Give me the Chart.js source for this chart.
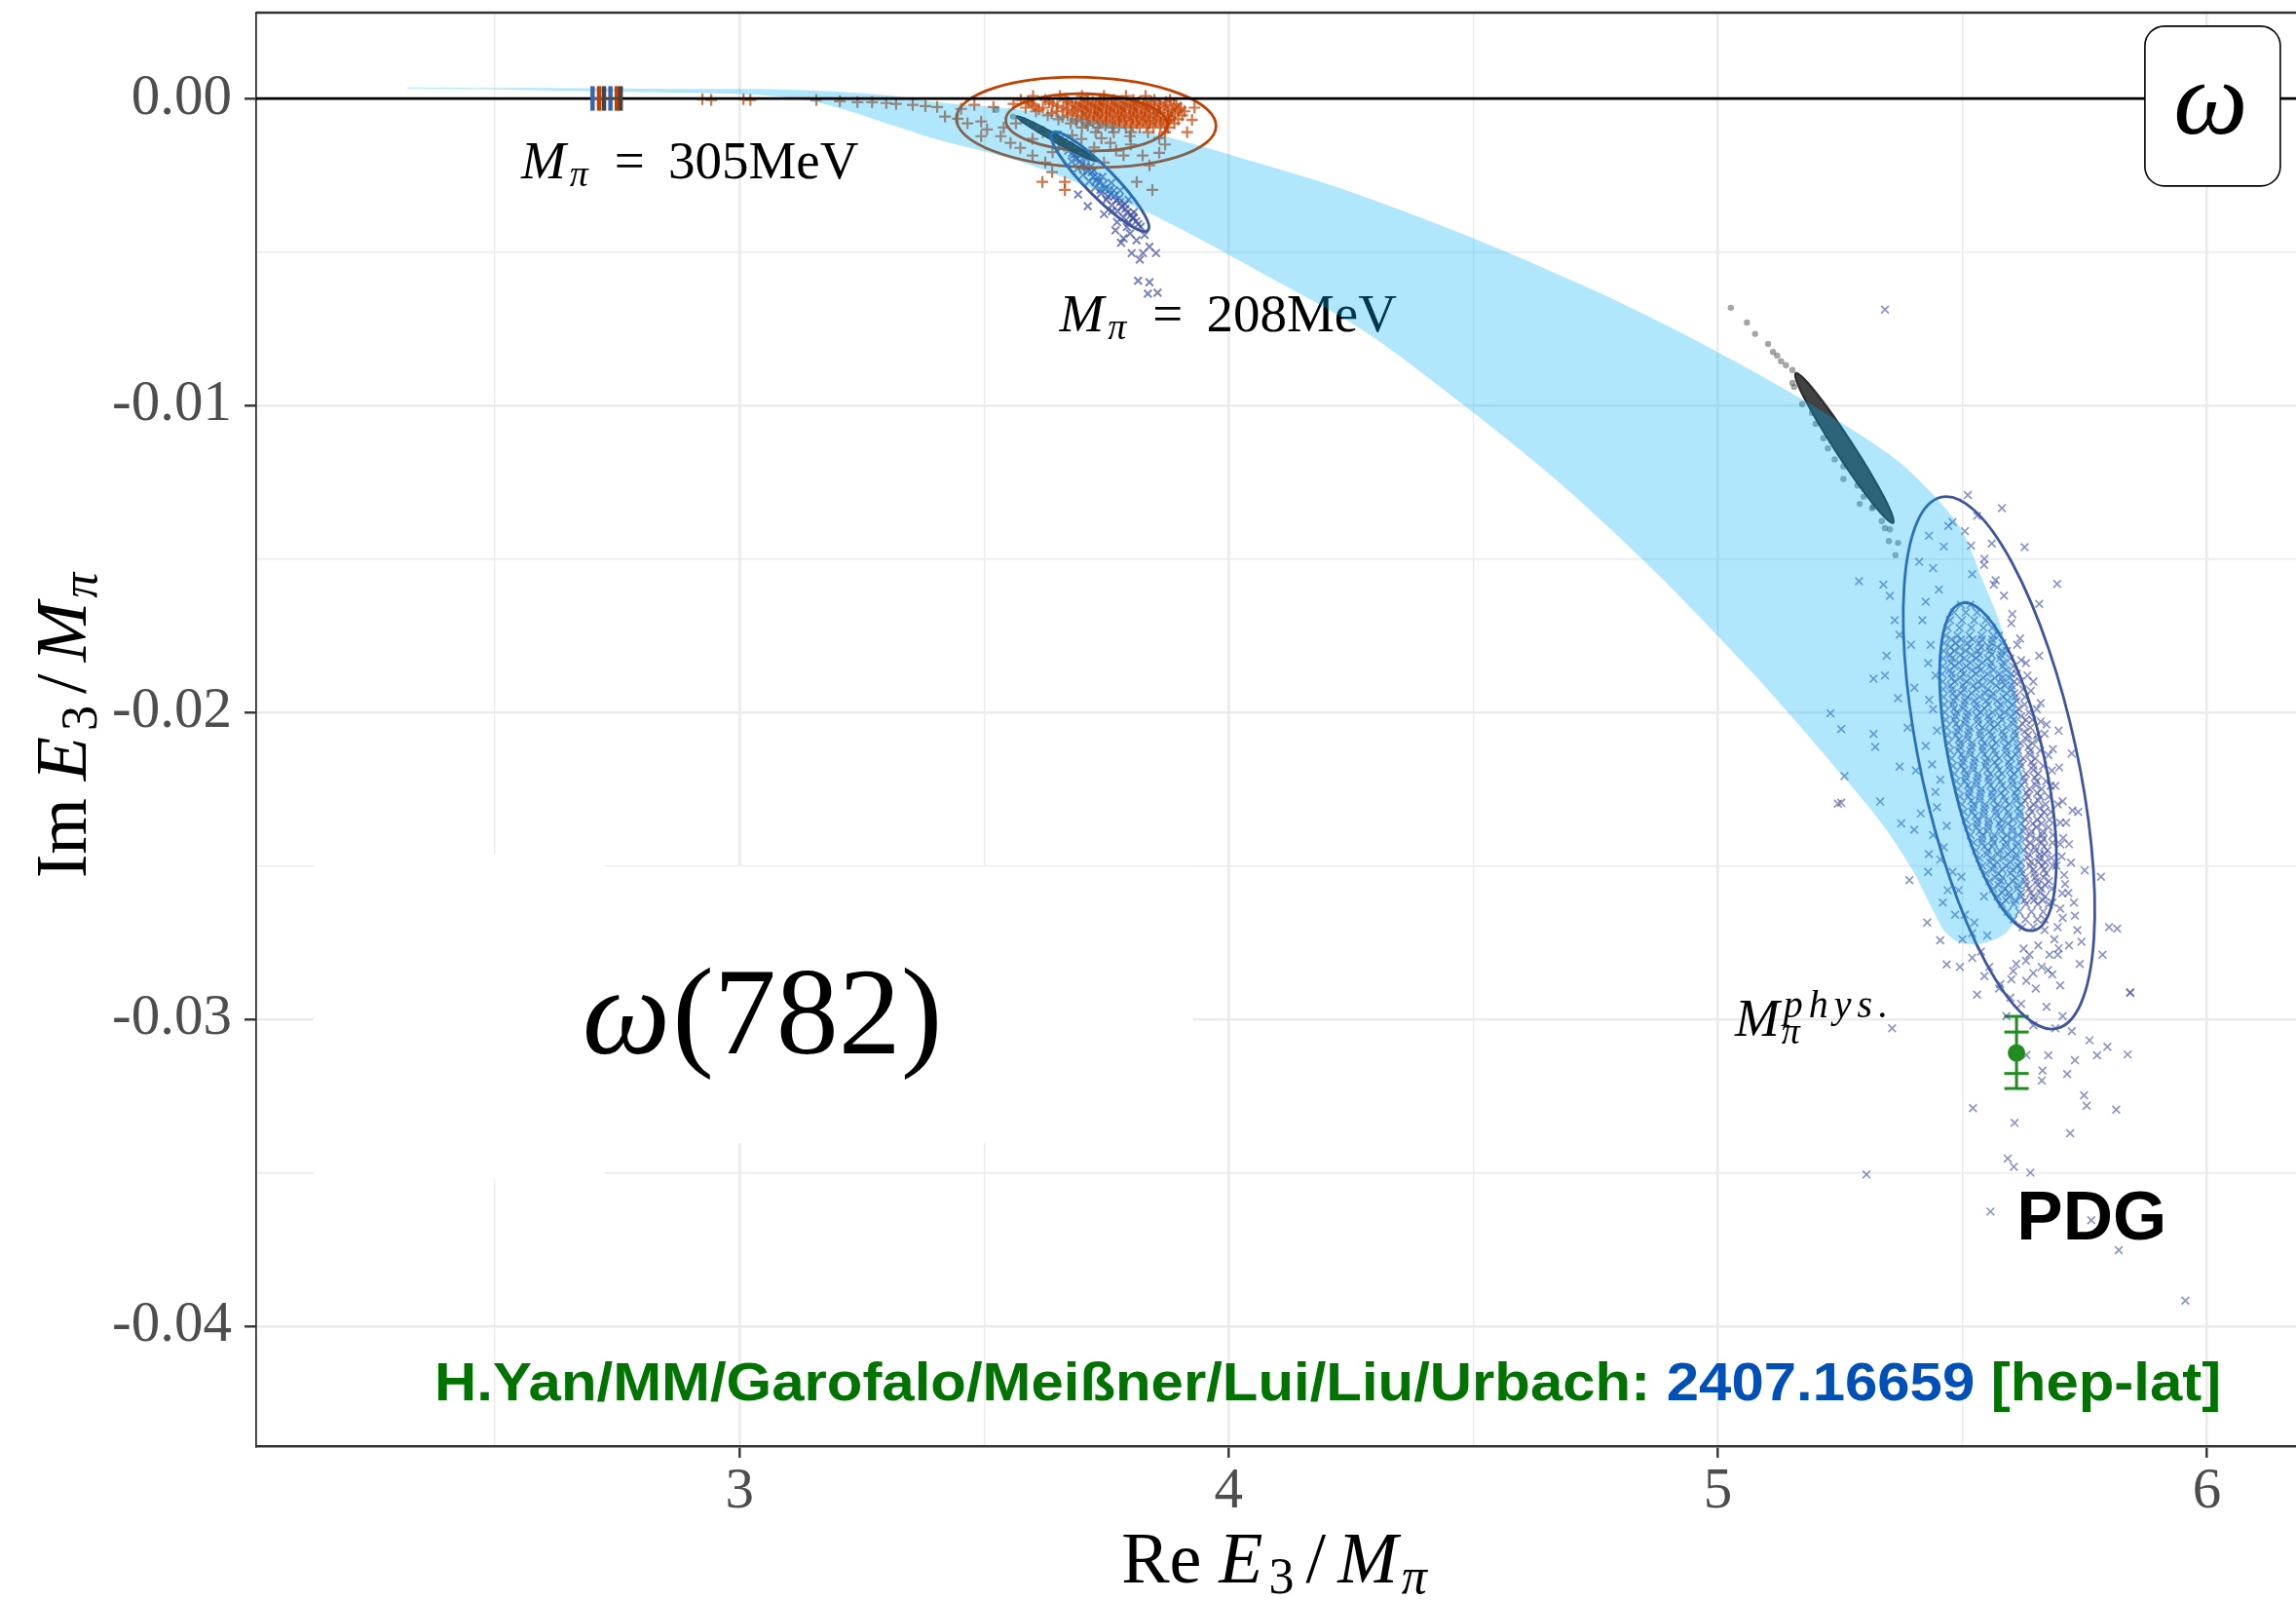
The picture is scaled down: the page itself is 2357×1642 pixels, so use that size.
<!DOCTYPE html>
<html>
<head>
<meta charset="utf-8">
<script src="https://cdn.jsdelivr.net/npm/chart.js@4.4.1/dist/chart.umd.min.js"></script>
<style>
  html, body { margin: 0; padding: 0; background: #fff; overflow: hidden; }
  canvas { display: block; }
</style>
</head>
<body>
<canvas id="chart" width="2357" height="1642"></canvas>
<script>
// ------------------------------------------------------------
// Data (Re E3/Mpi, Im E3/Mpi)
// ------------------------------------------------------------
const xRange = [2.0118, 6.182];
const yRange = [-0.04391, 0.002795];
const xGrid = [2.5, 3, 3.5, 4, 4.5, 5, 5.5, 6];
const xMajor = [3, 4, 5, 6];
const yGrid = [-0.04, -0.035, -0.03, -0.025, -0.02, -0.015, -0.01, -0.005, 0];
const yMajor = [0, -0.01, -0.02, -0.03, -0.04];
const yMajorLabels = ['0.00', '-0.01', '-0.02', '-0.03', '-0.04'];

// light blue band: upper edge left->right, lower edge right->left
const bandUpper = [
  [2.3205, 0.00036], [2.5237, 0.00034], [2.7428, 0.00033], [2.9220, 0.00031], [3.0614, 0.00030],
  [3.2008, 0.00022], [3.3203, 0.00007], [3.3999, -0.00012], [3.5792, -0.00037], [3.7186, -0.00072],
  [3.8839, -0.00129], [4.0572, -0.00209], [4.2424, -0.00301], [4.4913, -0.00450], [4.7403, -0.00621],
  [4.9534, -0.00787], [5.1725, -0.00980], [5.3517, -0.01161], [5.4314, -0.01276], [5.4971, -0.01403],
  [5.5449, -0.01584], [5.5768, -0.01711], [5.6046, -0.01901], [5.6166, -0.02114], [5.6245, -0.02324],
  [5.6245, -0.02536], [5.6166, -0.02641], [5.5907, -0.02717], [5.5449, -0.02752]
];
const bandLower = [
  [5.4971, -0.02752], [5.4653, -0.02717], [5.4454, -0.02663], [5.3976, -0.02514], [5.3318, -0.02355],
  [5.2323, -0.02165], [5.0729, -0.01875], [4.8738, -0.01545], [4.6746, -0.01250], [4.4754, -0.00993],
  [4.2762, -0.00757], [4.0771, -0.00577], [3.8282, -0.00367], [3.5792, -0.00209], [3.3999, -0.00132],
  [3.3203, -0.00091], [3.1809, -0.00021], [3.0614, 0.00009], [2.7428, 0.00022], [2.5237, 0.00029],
  [2.3205, 0.00033]
];

// Mpi = 305 MeV samples ("+")
const orangeRows = [
  [0.00008, [3.600, 3.655, 3.700, 3.745, 3.790, 3.830]],
  [-0.00005, [3.575, 3.625, 3.668, 3.712, 3.738, 3.765, 3.805, 3.848, 3.880]],
  [-0.000115, [3.590, 3.633, 3.672, 3.697, 3.722, 3.745, 3.770, 3.793, 3.817, 3.842, 3.872]],
  [-0.00018, [3.560, 3.598, 3.640, 3.680, 3.705, 3.728, 3.752, 3.779, 3.801, 3.826, 3.857, 3.893]],
  [-0.00024, [3.602, 3.650, 3.687, 3.711, 3.735, 3.760, 3.784, 3.808, 3.833, 3.860, 3.888]],
  [-0.00030, [3.585, 3.620, 3.662, 3.693, 3.718, 3.741, 3.766, 3.788, 3.812, 3.839, 3.869, 3.902]],
  [-0.00036, [3.612, 3.668, 3.700, 3.726, 3.750, 3.773, 3.798, 3.822, 3.847, 3.875, 3.898]],
  [-0.00042, [3.606, 3.648, 3.684, 3.708, 3.733, 3.757, 3.781, 3.806, 3.830, 3.855, 3.884, 3.910]],
  [-0.00048, [3.638, 3.680, 3.713, 3.738, 3.762, 3.786, 3.811, 3.835, 3.860, 3.890]],
  [-0.00055, [3.630, 3.671, 3.699, 3.725, 3.749, 3.774, 3.797, 3.821, 3.846, 3.876, 3.905]],
  [-0.00061, [3.660, 3.703, 3.730, 3.756, 3.780, 3.804, 3.828, 3.853, 3.882]],
  [-0.00068, [3.652, 3.690, 3.716, 3.742, 3.768, 3.791, 3.815, 3.840, 3.866, 3.897]],
  [-0.00074, [3.688, 3.723, 3.750, 3.776, 3.800, 3.825, 3.850, 3.878]],
  [-0.00081, [3.677, 3.709, 3.736, 3.763, 3.787, 3.812, 3.837, 3.862, 3.889]],
  [-0.00088, [3.712, 3.748, 3.776, 3.804, 3.832, 3.860]],
  [-0.00095, [3.700, 3.733, 3.762, 3.790, 3.818, 3.846, 3.876]],
  [-0.00110, [3.728, 3.765, 3.800, 3.835, 3.870]]
];
const orangeSpread = [
  [3.420, -0.00059], [3.446, -0.00066], [3.466, -0.00081], [3.494, -0.00075], [3.506, -0.00101],
  [3.534, -0.00123], [3.554, -0.00145], [3.574, -0.00161], [3.599, -0.00186], [3.625, -0.00209],
  [3.639, -0.00240], [3.665, -0.00272], [3.619, -0.00272], [3.665, -0.00298], [3.705, -0.00228],
  [3.745, -0.00209], [3.785, -0.00186], [3.824, -0.00186], [3.858, -0.00177], [3.838, -0.00218],
  [3.812, -0.00272], [3.844, -0.00298], [3.858, -0.00129], [3.878, -0.00069], [3.494, -0.00123],
  [3.565, -0.00081], [3.599, -0.00132], [3.652, -0.00145], [3.699, -0.00132], [3.758, -0.00145],
  [3.798, -0.00123], [3.540, -0.00095], [3.620, -0.00110], [3.680, -0.00120], [3.725, -0.00160],
  [3.770, -0.00170], [3.640, -0.00175], [3.690, -0.00190], [3.740, -0.00130], [3.800, -0.00150],
  [3.870, -0.00150], [3.915, -0.00110], [3.925, -0.00070], [3.930, -0.00030]
];
const orangeTail = [
  [2.924, -0.00002], [2.942, -0.00005], [3.008, -0.00002], [3.022, -0.00005], [3.157, -0.00005],
  [3.205, -0.00009], [3.241, -0.00012], [3.271, -0.00012], [3.300, -0.00015], [3.320, -0.00018],
  [3.354, -0.00021], [3.380, -0.00025], [3.404, -0.00028], [3.453, -0.00034], [3.480, -0.00021],
  [3.519, -0.00028]
];

// Mpi = 208 MeV samples ("x") and the dark streak next to them
const blue208 = [
  [3.6500, -0.00118], [3.6620, -0.00142], [3.6720, -0.00170], [3.6580, -0.00160], [3.6850, -0.00182],
  [3.6790, -0.00205], [3.6960, -0.00205], [3.6910, -0.00228], [3.7080, -0.00222], [3.7020, -0.00250],
  [3.7200, -0.00240], [3.7150, -0.00270], [3.7320, -0.00258], [3.7270, -0.00290], [3.7440, -0.00280],
  [3.7390, -0.00310], [3.7560, -0.00298], [3.7500, -0.00330], [3.7670, -0.00318], [3.7610, -0.00348],
  [3.7780, -0.00338], [3.7730, -0.00368], [3.7890, -0.00360], [3.7850, -0.00388], [3.8000, -0.00380],
  [3.7960, -0.00405], [3.8110, -0.00400], [3.8200, -0.00418], [3.7420, -0.00255], [3.7600, -0.00275],
  [3.7780, -0.00300], [3.7950, -0.00330], [3.7250, -0.00235], [3.7080, -0.00195],
  [3.6560, -0.00130], [3.6680, -0.00155], [3.6800, -0.00178], [3.6900, -0.00195], [3.7000, -0.00215],
  [3.7120, -0.00238], [3.7230, -0.00255], [3.7350, -0.00272], [3.7470, -0.00293], [3.7580, -0.00312],
  [3.7700, -0.00332], [3.7810, -0.00352], [3.7920, -0.00372], [3.8040, -0.00392], [3.8150, -0.00410],
  [3.7530, -0.00320], [3.7650, -0.00300], [3.7380, -0.00298], [3.7290, -0.00268], [3.7180, -0.00222],
  [3.7760, -0.00325], [3.7880, -0.00345], [3.8060, -0.00370],
  [3.7684, -0.00430], [3.7849, -0.00456], [3.7982, -0.00440], [3.8116, -0.00462], [3.8016, -0.00504],
  [3.8247, -0.00504], [3.8380, -0.00483], [3.8514, -0.00504], [3.8182, -0.00525], [3.8148, -0.00594],
  [3.8380, -0.00599], [3.8347, -0.00636], [3.8546, -0.00633], [3.6921, -0.00313], [3.7120, -0.00351],
  [3.7451, -0.00377], [3.7618, -0.00367], [3.7718, -0.00403], [3.7917, -0.00419], [3.8048, -0.00387],
  [3.8280, -0.00445], [3.7800, -0.00470]
];
const dark208 = [
  [3.525, -0.00037], [3.559, -0.00059], [3.580, -0.00072], [3.599, -0.00085], [3.620, -0.00100],
  [3.639, -0.00117], [3.679, -0.00148], [3.709, -0.00177]
];

// intermediate ensemble (grey dots)
const darkDots = [
  [5.0265, -0.00682], [5.0595, -0.00730], [5.0762, -0.00767], [5.1028, -0.00800], [5.1127, -0.00826],
  [5.1213, -0.00838], [5.1292, -0.00856], [5.1392, -0.00869], [5.1525, -0.00885], [5.1525, -0.00927],
  [5.1559, -0.00940], [5.1724, -0.00996], [5.1923, -0.01025], [5.2000, -0.01060], [5.2157, -0.01107],
  [5.2250, -0.01140], [5.2388, -0.01176], [5.2567, -0.01199], [5.2567, -0.01240], [5.2854, -0.01261],
  [5.2900, -0.01321], [5.2980, -0.01298], [5.3153, -0.01335], [5.3180, -0.01330], [5.3352, -0.01377],
  [5.3416, -0.01400], [5.3517, -0.01404], [5.3497, -0.01442], [5.3683, -0.01448], [5.3631, -0.01488]
];

// physical point samples ("x")
const physCoreRows = [
  [-0.01650, [5.497, 5.516]],
  [-0.01675, [5.483, 5.507, 5.530]],
  [-0.01700, [5.475, 5.499, 5.524, 5.548]],
  [-0.01725, [5.470, 5.494, 5.518, 5.543, 5.561]],
  [-0.01750, [5.466, 5.490, 5.514, 5.539, 5.563, 5.575]],
  [-0.01775, [5.463, 5.486, 5.510, 5.535, 5.559, 5.582]],
  [-0.01800, [5.462, 5.483, 5.507, 5.532, 5.556, 5.581, 5.591]],
  [-0.01825, [5.461, 5.479, 5.503, 5.528, 5.552, 5.577, 5.598]],
  [-0.01850, [5.460, 5.484, 5.508, 5.533, 5.557, 5.582, 5.604]],
  [-0.01875, [5.459, 5.478, 5.502, 5.527, 5.551, 5.576, 5.600, 5.611]],
  [-0.01900, [5.460, 5.484, 5.508, 5.533, 5.557, 5.582, 5.606, 5.618]],
  [-0.01925, [5.461, 5.479, 5.503, 5.528, 5.552, 5.577, 5.601, 5.624]],
  [-0.01950, [5.462, 5.486, 5.510, 5.535, 5.559, 5.584, 5.608, 5.628]],
  [-0.01975, [5.463, 5.480, 5.504, 5.529, 5.553, 5.578, 5.602, 5.627]],
  [-0.02000, [5.464, 5.488, 5.512, 5.537, 5.561, 5.586, 5.610, 5.636]],
  [-0.02025, [5.466, 5.483, 5.507, 5.532, 5.556, 5.581, 5.605, 5.630, 5.643]],
  [-0.02050, [5.468, 5.492, 5.516, 5.541, 5.565, 5.590, 5.614, 5.639]],
  [-0.02075, [5.470, 5.487, 5.511, 5.536, 5.560, 5.585, 5.609, 5.634, 5.652]],
  [-0.02100, [5.472, 5.496, 5.520, 5.545, 5.569, 5.594, 5.618, 5.643]],
  [-0.02125, [5.475, 5.492, 5.516, 5.541, 5.565, 5.590, 5.614, 5.639, 5.659]],
  [-0.02150, [5.478, 5.502, 5.526, 5.551, 5.575, 5.600, 5.624, 5.649]],
  [-0.02175, [5.481, 5.498, 5.522, 5.547, 5.571, 5.596, 5.620, 5.645, 5.665]],
  [-0.02200, [5.484, 5.508, 5.532, 5.557, 5.581, 5.606, 5.630, 5.655]],
  [-0.02225, [5.488, 5.505, 5.529, 5.554, 5.578, 5.603, 5.627, 5.652, 5.671]],
  [-0.02250, [5.491, 5.515, 5.539, 5.564, 5.588, 5.613, 5.637, 5.662]],
  [-0.02275, [5.495, 5.512, 5.536, 5.561, 5.585, 5.610, 5.634, 5.659, 5.676]],
  [-0.02300, [5.499, 5.523, 5.547, 5.572, 5.596, 5.621, 5.645, 5.670]],
  [-0.02325, [5.503, 5.520, 5.544, 5.569, 5.593, 5.618, 5.642, 5.667, 5.681]],
  [-0.02350, [5.507, 5.531, 5.555, 5.580, 5.604, 5.629, 5.653, 5.678]],
  [-0.02375, [5.512, 5.529, 5.553, 5.578, 5.602, 5.627, 5.651, 5.676]],
  [-0.02400, [5.517, 5.541, 5.565, 5.590, 5.614, 5.639, 5.663, 5.685]],
  [-0.02425, [5.523, 5.540, 5.564, 5.589, 5.613, 5.638, 5.662, 5.684]],
  [-0.02450, [5.528, 5.552, 5.576, 5.601, 5.625, 5.650, 5.674]],
  [-0.02475, [5.535, 5.559, 5.584, 5.608, 5.633, 5.657, 5.682]],
  [-0.02500, [5.541, 5.565, 5.589, 5.614, 5.638, 5.663, 5.685]],
  [-0.02525, [5.548, 5.573, 5.598, 5.622, 5.647, 5.671]],
  [-0.02550, [5.555, 5.579, 5.603, 5.628, 5.652, 5.677]],
  [-0.02575, [5.563, 5.587, 5.612, 5.636, 5.661, 5.683]],
  [-0.02600, [5.572, 5.596, 5.620, 5.645, 5.669]],
  [-0.02625, [5.581, 5.605, 5.630, 5.654, 5.677]],
  [-0.02650, [5.592, 5.616, 5.641, 5.665]],
  [-0.02675, [5.605, 5.629, 5.653, 5.668]],
  [-0.02700, [5.623, 5.645]]
];
// densest middle of the physical cloud, between the rows above
const physMidRows = [
  [-0.01763, [5.478, 5.497, 5.521, 5.540, 5.561]],
  [-0.01788, [5.476, 5.494, 5.515, 5.538, 5.555, 5.571]],
  [-0.01813, [5.475, 5.496, 5.519, 5.535, 5.560, 5.579]],
  [-0.01838, [5.477, 5.493, 5.516, 5.541, 5.559, 5.584]],
  [-0.01863, [5.474, 5.498, 5.520, 5.537, 5.563, 5.589]],
  [-0.01888, [5.478, 5.495, 5.517, 5.543, 5.566, 5.581, 5.596]],
  [-0.01913, [5.476, 5.501, 5.522, 5.540, 5.569, 5.587, 5.601]],
  [-0.01938, [5.480, 5.497, 5.519, 5.546, 5.563, 5.590, 5.606]],
  [-0.01963, [5.482, 5.505, 5.524, 5.549, 5.571, 5.592, 5.611]],
  [-0.01988, [5.483, 5.501, 5.528, 5.545, 5.574, 5.596, 5.615]],
  [-0.02013, [5.486, 5.509, 5.530, 5.553, 5.577, 5.599, 5.620]],
  [-0.02038, [5.487, 5.505, 5.533, 5.557, 5.572, 5.603, 5.623]],
  [-0.02063, [5.490, 5.513, 5.536, 5.555, 5.581, 5.607, 5.627]],
  [-0.02088, [5.493, 5.511, 5.539, 5.562, 5.584, 5.604, 5.631]],
  [-0.02113, [5.495, 5.519, 5.541, 5.560, 5.588, 5.612, 5.635]],
  [-0.02138, [5.498, 5.516, 5.545, 5.568, 5.591, 5.609, 5.638]],
  [-0.02163, [5.501, 5.524, 5.548, 5.566, 5.594, 5.618, 5.641]],
  [-0.02188, [5.504, 5.522, 5.551, 5.575, 5.597, 5.614, 5.645]],
  [-0.02213, [5.507, 5.531, 5.553, 5.572, 5.600, 5.625, 5.648]],
  [-0.02238, [5.511, 5.528, 5.557, 5.581, 5.603, 5.621, 5.650]],
  [-0.02263, [5.514, 5.537, 5.560, 5.579, 5.607, 5.631, 5.653]],
  [-0.02288, [5.518, 5.535, 5.563, 5.588, 5.610, 5.628, 5.655]],
  [-0.02313, [5.522, 5.545, 5.567, 5.586, 5.613, 5.638, 5.658]],
  [-0.02338, [5.526, 5.543, 5.571, 5.595, 5.617, 5.635, 5.661]],
  [-0.02363, [5.530, 5.553, 5.575, 5.593, 5.620, 5.644, 5.662]],
  [-0.02388, [5.535, 5.551, 5.579, 5.602, 5.624, 5.641, 5.664]],
  [-0.02413, [5.540, 5.562, 5.583, 5.601, 5.628, 5.651, 5.666]],
  [-0.02438, [5.545, 5.561, 5.588, 5.610, 5.632, 5.648, 5.667]],
  [-0.02463, [5.550, 5.572, 5.593, 5.610, 5.636, 5.658, 5.668]],
  [-0.02488, [5.556, 5.571, 5.598, 5.619, 5.640, 5.655, 5.669]],
  [-0.02513, [5.561, 5.582, 5.603, 5.620, 5.645, 5.667]],
  [-0.02538, [5.567, 5.582, 5.608, 5.628, 5.649, 5.666]],
  [-0.02563, [5.574, 5.594, 5.614, 5.631, 5.654, 5.669]],
  [-0.02588, [5.581, 5.595, 5.620, 5.640, 5.659]],
  [-0.02613, [5.589, 5.608, 5.627, 5.646, 5.664]]
];
const physRing = [
  [5.657, -0.01647], [5.657, -0.01816], [5.6968, -0.0206], [5.7235, -0.02134], [5.7367, -0.02325],
  [5.750, -0.02515], [5.7167, -0.02589], [5.730, -0.02663], [5.7434, -0.02748], [5.6968, -0.02769],
  [5.6371, -0.02790], [5.6040, -0.02843], [5.5774, -0.02886], [5.6306, -0.02875], [5.6837, -0.02854],
  [5.5442, -0.02600], [5.5243, -0.02685], [5.5508, -0.02727], [5.4977, -0.02536], [5.5176, -0.01457],
  [5.5443, -0.01520], [5.5642, -0.01584], [5.4713, -0.01393], [5.4315, -0.01425], [5.4116, -0.01510],
  [5.480, -0.0138], [5.505, -0.0141], [5.530, -0.0136], [5.462, -0.0146], [5.545, -0.0150],
  [5.440, -0.0153], [5.568, -0.0157], [5.452, -0.0160], [5.585, -0.0162], [5.425, -0.0164],
  [5.560, -0.0145], [5.520, -0.0155], [5.418, -0.0170], [5.395, -0.0178], [5.430, -0.0184],
  [5.402, -0.0192], [5.440, -0.0199], [5.388, -0.0205], [5.425, -0.0211], [5.405, -0.0219],
  [5.445, -0.0226], [5.415, -0.0233], [5.440, -0.0240], [5.455, -0.0248], [5.430, -0.0252],
  [5.470, -0.0258], [5.485, -0.0266], [5.460, -0.0262], [5.500, -0.0274], [5.520, -0.0280],
  [5.495, -0.0283], [5.545, -0.0286], [5.530, -0.0292], [5.602, -0.0168], [5.618, -0.0176],
  [5.630, -0.0184], [5.645, -0.0190], [5.660, -0.0197], [5.672, -0.0204], [5.655, -0.0209],
  [5.685, -0.0212], [5.698, -0.0218], [5.680, -0.0224], [5.705, -0.0229], [5.712, -0.0236],
  [5.700, -0.0243], [5.722, -0.0249], [5.710, -0.0256], [5.728, -0.0262], [5.705, -0.0267],
  [5.735, -0.0271], [5.718, -0.0276], [5.695, -0.0279], [5.740, -0.0282], [5.655, -0.0276],
  [5.630, -0.0281], [5.675, -0.0284], [5.600, -0.0287], [5.650, -0.0290], [5.700, -0.0289],
  [5.620, -0.0295], [5.672, -0.0296], [5.705, -0.0299], [5.590, -0.0299], [5.645, -0.0302],
  [5.690, -0.0303],
  [5.600, -0.0171], [5.612, -0.0178], [5.620, -0.0183], [5.633, -0.0188], [5.640, -0.0193],
  [5.652, -0.0199], [5.660, -0.0203], [5.668, -0.0207], [5.676, -0.0214], [5.683, -0.0219],
  [5.690, -0.0224], [5.695, -0.0230], [5.700, -0.0236], [5.706, -0.0241], [5.703, -0.0247],
  [5.708, -0.0253], [5.704, -0.0259], [5.700, -0.0264], [5.695, -0.0270], [5.688, -0.0274],
  [5.678, -0.0279], [5.662, -0.0283], [5.645, -0.0285], [5.625, -0.0277], [5.610, -0.0282],
  [5.668, -0.0271], [5.684, -0.0262], [5.692, -0.0250], [5.718, -0.0243], [5.725, -0.0232],
  [5.435, -0.0178], [5.445, -0.0188], [5.432, -0.0196], [5.448, -0.0206], [5.438, -0.0217],
  [5.455, -0.0222], [5.448, -0.0231], [5.468, -0.0237], [5.462, -0.0244], [5.480, -0.0252],
  [5.492, -0.0258], [5.505, -0.0266], [5.520, -0.0272], [5.538, -0.0278], [5.555, -0.0283],
  [5.575, -0.0290], [5.598, -0.0293]
];
const physOuter = [
  [5.843, -0.02915], [5.760, -0.03069], [5.7964, -0.03090], [5.8377, -0.03115], [5.7753, -0.03118],
  [5.730, -0.03134], [5.6757, -0.03118], [5.6637, -0.03168], [5.6624, -0.03200], [5.7141, -0.03179],
  [5.7487, -0.03248], [5.754, -0.03282], [5.8144, -0.03295], [5.7202, -0.03372], [5.6066, -0.03338],
  [5.5216, -0.03290], [5.5927, -0.03454], [5.6052, -0.03481], [5.6391, -0.03500], [5.3039, -0.03506],
  [5.5574, -0.03627], [5.7634, -0.03655], [5.8197, -0.03753], [5.9558, -0.03917], [5.3563, -0.03030],
  [5.7236, -0.03039], [5.6306, -0.03117], [5.3418, -0.00688], [5.2303, -0.02003], [5.2522, -0.02295],
  [5.2886, -0.01573], [5.3384, -0.01584], [5.3517, -0.01621], [5.3616, -0.01700], [5.3716, -0.01748],
  [5.3451, -0.01816], [5.3184, -0.01891], [5.3417, -0.01880], [5.3682, -0.01954], [5.2522, -0.02055],
  [5.3184, -0.02071], [5.3219, -0.02113], [5.3716, -0.02177], [5.2588, -0.02208], [5.2455, -0.02298],
  [5.3318, -0.02291], [5.3750, -0.02362], [5.4015, -0.02383], [5.3916, -0.02547], [5.4314, -0.02462],
  [5.4280, -0.02685], [5.4547, -0.02743], [5.4679, -0.02822], [5.6272, -0.01462], [5.6937, -0.01582],
  [5.5808, -0.01335], [5.5111, -0.01292], [5.7833, -0.02536], [5.7998, -0.02700], [5.8164, -0.02705],
  [5.7865, -0.02790], [5.8430, -0.02912]
];

// confidence ellipses: centre, tip of the major axis, minor/major ratio
const ellOrangeOuter = { c: [3.7086, -0.000775], tip: [3.9741, -0.000911], ratio: 0.346 };
const ellOrangeInner = { c: [3.7094, -0.000778], tip: [3.8745, -0.000861], ratio: 0.353 };
const ellBlue208 = { c: [3.7369, -0.002712], tip: [3.8347, -0.00430], ratio: 0.21 };
const ellDark208 = { c: [3.6489, -0.001315], tip: [3.7319, -0.002055], ratio: 0.08 };
const ellDarkMid = { c: [5.2587, -0.011391], tip: [5.3583, -0.013827], ratio: 0.1 };
const ellPhysOuter = { c: [5.5748, -0.021648], tip: [5.6927, -0.030305], ratio: 0.288 };
const ellPhysInner = { c: [5.5728, -0.021775], tip: [5.6463, -0.027110], ratio: 0.281 };

// horizontal error bars on the real axis
const hErrLo = [2.6995, 2.7128, 2.7228];
const hErrHi = [2.7360, 2.7490, 2.7570];
const hErrY = [0, 0, 0];

// PDG value
const pdgX = [5.6106];
const pdgY = [-0.03110];
const pdgErrInner = [-0.03042, -0.03177];
const pdgErrOuter = [-0.02991, -0.03226];

// ------------------------------------------------------------
// Styles / helpers
// ------------------------------------------------------------
const SERIF = "'Liberation Serif', 'Times New Roman', serif";
const SANS = "'Liberation Sans', Arial, Helvetica, sans-serif";
const BAND = 'rgba(0, 176, 250, 0.31)';
const ORANGE = '#c04000';
const SLATE = '#3d559e';
const GRID = '#ebebeb';
const AXIS = '#333333';
const FOREST = '#228b22';

const toPts = arr => arr.map(([x, y]) => ({ x, y }));
const rowsToPts = rows => rows.flatMap(([y, xs]) => xs.map(x => ({ x, y })));
const X = (c, v) => c.scales.x.getPixelForValue(v);
const Y = (c, v) => c.scales.y.getPixelForValue(v);

function ellipse(chart, e, stroke, width, fill) {
  const ctx = chart.ctx;
  const cx = X(chart, e.c[0]), cy = Y(chart, e.c[1]);
  const tx = X(chart, e.tip[0]), ty = Y(chart, e.tip[1]);
  const a = Math.hypot(tx - cx, ty - cy);
  ctx.save();
  ctx.beginPath();
  ctx.ellipse(cx, cy, a, a * e.ratio, Math.atan2(ty - cy, tx - cx), 0, Math.PI * 2);
  if (fill) { ctx.fillStyle = fill; ctx.fill(); }
  ctx.strokeStyle = stroke;
  ctx.lineWidth = width;
  ctx.stroke();
  ctx.restore();
}

function drawRich(ctx, x, y, parts, align) {
  let total = 0;
  for (const p of parts) { ctx.font = p.f; total += ctx.measureText(p.t).width + (p.k || 0); }
  let cx = align === 'center' ? x - total / 2 : x;
  for (const p of parts) {
    ctx.font = p.f;
    ctx.fillText(p.t, cx, y + (p.dy || 0));
    cx += ctx.measureText(p.t).width + (p.k || 0);
  }
  return total;
}

function mpiLabel(value) {
  return [
    { t: 'M', f: `italic 55px ${SERIF}`, k: 4 },
    { t: 'π', f: `italic 38px ${SERIF}`, dy: 8, k: 27 },
    { t: '=', f: `55px ${SERIF}`, k: 24 },
    { t: value + 'MeV', f: `55px ${SERIF}` }
  ];
}

// everything that sits under the translucent band
const underBand = {
  id: 'underBand',
  afterDatasetDraw(chart, args) {
    if (chart.data.datasets[args.index].label !== 'phys') return;
    const ctx = chart.ctx;
    ellipse(chart, ellOrangeOuter, ORANGE, 2.8);
    ellipse(chart, ellOrangeInner, ORANGE, 2.8);
    ellipse(chart, ellDark208, '#2d2d2d', 1.5, 'rgba(45,45,45,0.9)');
    ellipse(chart, ellBlue208, SLATE, 3);
    ellipse(chart, ellDarkMid, '#2d2d2d', 2.2, 'rgba(45,45,45,0.9)');
    ellipse(chart, ellPhysOuter, SLATE, 2.8);
    ellipse(chart, ellPhysInner, SLATE, 2.8);
    ctx.save();
    ctx.fillStyle = '#000';
    ctx.textBaseline = 'alphabetic';
    drawRich(ctx, X(chart, 3.6538), Y(chart, -0.007602), mpiLabel('208'));
    ctx.restore();
  }
};

const decorations = {
  id: 'decorations',
  beforeDatasetsDraw(chart) {
    const ctx = chart.ctx;
    ctx.save();
    // white label boxes behind omega(782)
    ctx.fillStyle = '#fff';
    const rects = [[2.1293, 2.7248, -0.02463, -0.03521], [2.7248, 3.9277, -0.02503, -0.03403]];
    for (const [x0, x1, y0, y1] of rects) {
      ctx.fillRect(X(chart, x0), Y(chart, y0), X(chart, x1) - X(chart, x0), Y(chart, y1) - Y(chart, y0));
    }
    ctx.fillStyle = '#000';
    ctx.textBaseline = 'alphabetic';
    drawRich(ctx, X(chart, 2.6786), Y(chart, -0.031102), [
      { t: 'ω', f: `italic 128px ${SERIF}`, k: 2 },
      { t: '(782)', f: `128px ${SERIF}` }
    ]);
    // PDG error bars
    ctx.strokeStyle = FOREST;
    ctx.lineWidth = 3;
    pdgX.forEach(xv => {
      const px = X(chart, xv);
      ctx.beginPath();
      ctx.moveTo(px, Y(chart, pdgErrOuter[0]));
      ctx.lineTo(px, Y(chart, pdgErrOuter[1]));
      ctx.stroke();
      [...pdgErrInner, ...pdgErrOuter].forEach(yv => {
        ctx.beginPath();
        ctx.moveTo(px - 12.5, Y(chart, yv));
        ctx.lineTo(px + 12.5, Y(chart, yv));
        ctx.stroke();
      });
    });
    ctx.restore();
  },
  afterDatasetsDraw(chart) {
    const ctx = chart.ctx;
    const area = chart.chartArea;
    ctx.save();
    // y = 0 line
    ctx.strokeStyle = '#000';
    ctx.lineWidth = 2.7;
    ctx.beginPath();
    ctx.moveTo(area.left, Y(chart, 0));
    ctx.lineTo(area.right, Y(chart, 0));
    ctx.stroke();
    // error bars on the real axis
    const hColors = ['#3c64aa', ORANGE, '#444444'];
    hErrLo.forEach((lo, i) => {
      ctx.strokeStyle = hColors[i];
      const yc = Y(chart, hErrY[i]);
      const y0 = Y(chart, hErrY[i] + 0.0004), y1 = Y(chart, hErrY[i] - 0.0004);
      ctx.lineWidth = 4.5;
      [lo, hErrHi[i]].forEach(xv => {
        const px = X(chart, xv);
        ctx.beginPath(); ctx.moveTo(px, y0); ctx.lineTo(px, y1); ctx.stroke();
      });
      ctx.lineWidth = 2;
      ctx.beginPath(); ctx.moveTo(X(chart, lo), yc); ctx.lineTo(X(chart, hErrHi[i]), yc); ctx.stroke();
    });
    // omega box top right
    const bx = X(chart, 6.0115), by = Y(chart, -0.00025);
    ctx.beginPath();
    ctx.roundRect(bx - 69.5, by - 82, 139, 164, 20);
    ctx.fillStyle = '#fff';
    ctx.fill();
    ctx.strokeStyle = '#000';
    ctx.lineWidth = 1.6;
    ctx.stroke();
    ctx.fillStyle = '#000';
    ctx.font = `italic 108px ${SERIF}`;
    ctx.textAlign = 'center';
    ctx.textBaseline = 'alphabetic';
    ctx.fillText('ω', bx - 2, by + 28);
    ctx.textAlign = 'left';
    // Mpi = 305 MeV
    drawRich(ctx, X(chart, 2.5535), Y(chart, -0.002604), mpiLabel('305'));
    // Mpi^phys.
    const mx = X(chart, 5.0350), my = Y(chart, -0.030540);
    const wM = drawRich(ctx, mx, my, [{ t: 'M', f: `italic 55px ${SERIF}` }]);
    ctx.font = `italic 38px ${SERIF}`;
    ctx.fillText('π', mx + wM + 2, my + 8);
    ctx.font = `italic 40px ${SERIF}`;
    ctx.letterSpacing = '6px';
    ctx.fillText('phys.', mx + wM + 4, my - 19);
    ctx.letterSpacing = '0px';
    // PDG
    ctx.font = `bold 71px ${SANS}`;
    ctx.textAlign = 'center';
    ctx.fillText('PDG', X(chart, 5.7642), Y(chart, -0.037176));
    ctx.textAlign = 'left';
    // citation line
    const cite = [
      { t: 'H.Yan/MM/Garofalo/Meißner/Lui/Liu/Urbach: ', c: '#007300' },
      { t: '2407.16659', c: '#0050b8' },
      { t: ' [hep-lat]', c: '#007300' }
    ];
    ctx.font = `bold 56px ${SANS}`;
    const full = cite.reduce((s, p) => s + ctx.measureText(p.t).width, 0);
    const x0 = X(chart, 2.3763), x1 = X(chart, 6.0289);
    ctx.translate(x0, Y(chart, -0.042426));
    ctx.scale((x1 - x0) / full, 1);
    let cx = 0;
    cite.forEach(p => { ctx.fillStyle = p.c; ctx.fillText(p.t, cx, 0); cx += ctx.measureText(p.t).width; });
    ctx.restore();
    // top border of the panel
    ctx.save();
    ctx.strokeStyle = AXIS;
    ctx.lineWidth = 2.6;
    ctx.beginPath();
    ctx.moveTo(area.left, area.top);
    ctx.lineTo(area.right, area.top);
    ctx.stroke();
    ctx.restore();
  },
  afterDraw(chart) {
    const ctx = chart.ctx;
    const area = chart.chartArea;
    ctx.save();
    ctx.fillStyle = '#000';
    ctx.textBaseline = 'alphabetic';
    const title = lead => [
      { t: lead, f: `74px ${SERIF}`, k: 18 },
      { t: 'E', f: `italic 74px ${SERIF}`, k: 6 },
      { t: '3', f: `52px ${SERIF}`, dy: 11, k: 12 },
      { t: '/', f: `74px ${SERIF}`, k: 12 },
      { t: 'M', f: `italic 74px ${SERIF}`, k: 4 },
      { t: 'π', f: `italic 52px ${SERIF}`, dy: 11 }
    ];
    drawRich(ctx, (area.left + area.right) / 2 - 2, 1624, title('Re'), 'center');
    ctx.translate(88, (area.top + area.bottom) / 2 - 4);
    ctx.rotate(-Math.PI / 2);
    drawRich(ctx, 0, 0, title('Im'), 'center');
    ctx.restore();
  }
};

// ------------------------------------------------------------
// Chart
// ------------------------------------------------------------
const isMajorX = c => c.tick && xMajor.includes(c.tick.value);
const isMajorY = c => c.tick && yMajor.includes(c.tick.value);

new Chart(document.getElementById('chart'), {
  type: 'scatter',
  data: {
    datasets: [
      {
        label: 'band', type: 'line', order: 0,
        data: toPts([...bandUpper, ...bandLower]),
        fill: 'shape', backgroundColor: BAND, borderColor: 'rgba(0,0,0,0)', borderWidth: 1,
        pointRadius: 0, tension: 0.3
      },
      {
        label: 'pdg', order: -1, data: pdgX.map((x, i) => ({ x, y: pdgY[i] })),
        pointRadius: 9, pointBackgroundColor: FOREST, pointBorderWidth: 0
      },
      {
        label: '305', order: 5,
        data: [...rowsToPts(orangeRows), ...toPts(orangeSpread), ...toPts(orangeTail)],
        pointStyle: 'cross', pointRadius: 6, pointBorderWidth: 2.2,
        pointBorderColor: 'rgba(196,64,0,0.72)'
      },
      {
        label: '208', order: 4, data: toPts(blue208),
        pointStyle: 'crossRot', pointRadius: 5.5, pointBorderWidth: 2,
        pointBorderColor: 'rgba(62,78,160,0.7)'
      },
      {
        label: 'dark', order: 3, data: [...toPts(darkDots), ...toPts(dark208)],
        pointRadius: 3.2, pointBackgroundColor: 'rgba(55,55,55,0.45)', pointBorderWidth: 0
      },
      {
        label: 'phys', order: 2,
        data: [...rowsToPts(physCoreRows), ...rowsToPts(physMidRows), ...toPts(physRing), ...toPts(physOuter)],
        pointStyle: 'crossRot', pointRadius: 5.5, pointBorderWidth: 1.7,
        pointBorderColor: 'rgba(62,78,160,0.6)'
      }
    ]
  },
  options: {
    responsive: false,
    devicePixelRatio: 1,
    animation: false,
    events: [],
    layout: { autoPadding: false, padding: { top: 13, right: 0, bottom: 0, left: 0 } },
    plugins: { legend: { display: false }, tooltip: { enabled: false } },
    scales: {
      x: {
        type: 'linear', min: xRange[0], max: xRange[1],
        afterBuildTicks: s => { s.ticks = xGrid.map(v => ({ value: v })); },
        afterFit: s => { s.height = 158; s.paddingLeft = 0; s.paddingRight = 0; },
        ticks: {
          autoSkip: false, maxRotation: 0, minRotation: 0, padding: 0, color: '#4d4d4d',
          font: { family: SERIF, size: 59 },
          callback: v => (xMajor.includes(v) ? String(v) : '')
        },
        grid: {
          color: GRID, lineWidth: c => (isMajorX(c) ? 2.6 : 1.4),
          tickColor: c => (isMajorX(c) ? AXIS : 'rgba(0,0,0,0)'), tickLength: 12, tickWidth: 2.4
        },
        border: { display: true, color: AXIS, width: 2.6 }
      },
      y: {
        type: 'linear', min: yRange[0], max: yRange[1],
        afterBuildTicks: s => { s.ticks = yGrid.map(v => ({ value: v })); },
        afterFit: s => { s.width = 263; s.paddingTop = 0; s.paddingBottom = 0; },
        ticks: {
          autoSkip: false, padding: 13, color: '#4d4d4d',
          font: { family: SERIF, size: 59 },
          callback: v => { const i = yMajor.indexOf(v); return i >= 0 ? yMajorLabels[i] : ''; }
        },
        grid: {
          color: GRID, lineWidth: c => (isMajorY(c) ? 2.6 : 1.4),
          tickColor: c => (isMajorY(c) ? AXIS : 'rgba(0,0,0,0)'), tickLength: 12, tickWidth: 2.4
        },
        border: { display: true, color: AXIS, width: 1.8 }
      }
    }
  },
  plugins: [underBand, decorations]
});
</script>
</body>
</html>
